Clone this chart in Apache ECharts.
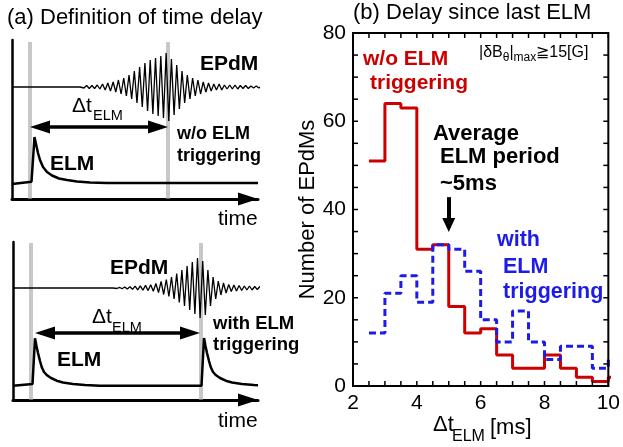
<!DOCTYPE html>
<html>
<head>
<meta charset="utf-8">
<script src="https://cdn.jsdelivr.net/npm/echarts@6.0.0/dist/echarts.min.js"></script>
<style>
  html, body { margin: 0; padding: 0; background: #fff; }
  #chart { width: 623px; height: 447px; }
</style>
</head>
<body>
<div id="chart"></div>
<script>
// ---- (b) histogram: number of EPdMs vs. delay since last ELM ----
const binLeft = [2.5, 3.0, 3.5, 4.0, 4.5, 5.0, 5.5, 6.0, 6.5, 7.0, 7.5, 8.0, 8.5, 9.0, 9.5, 10.0];
const binWidth = 0.5;
const countsWithoutTrigger = [51, 64, 63, 31, 32, 18, 12, 13, 7, 4, 4, 7, 4, 2, 1, 2];
const countsWithTrigger    = [12, 21, 25, 19, 32, 31, 26, 15, 10, 17, 10, 6, 9, 9, 4, 6];
const delayRange = [2, 10];
const countRange = [0, 80];
// tick marks on the frame (labels every 2 ms / 20 counts)
const delayTicks = [2, 2.5, 3, 3.5, 4, 4.5, 5, 5.5, 6, 6.5, 7, 7.5, 8, 8.5, 9, 9.5, 10];
const countTicks = [0, 5, 10, 15, 20, 25, 30, 35, 40, 45, 50, 55, 60, 65, 70, 75, 80];
const averageElmPeriod = 5;          // ms
const averageArrowCounts = [42.8, 36.5];

// ---- (a) schematic traces (arbitrary time / signal units) ----
// ELM signal without triggering: [time, signal]
const elmTraceUpper = [[0, 15], [19.5, 17.3], [22.5, 62], [24, 55], [26, 46], [28, 39], [31, 32], [35, 27],
  [40, 23.5], [47, 20.5], [55, 19], [65, 17.5], [78, 16.5], [95, 16], [246, 16]];
// ELM signal with triggering (second ELM at the EPdM burst)
const elmTraceLower = [[0, 14.3], [19.5, 16], [22, 61.7], [23.5, 54], [25, 47], [27, 39], [28.7, 33], [31, 28],
  [33.7, 25], [38, 22], [43.7, 19.3], [50, 17.5], [60, 16], [72, 15], [87, 14.3], [188.5, 14.3], [191, 62],
  [192.5, 54], [194, 47], [196, 39], [197.7, 33], [200, 28], [202.7, 25], [207, 22], [212.7, 19.3],
  [219, 17.5], [229, 16], [241, 15], [245, 14.8]];
// EPdM magnetic oscillation: amplitude of each cycle
const modeAmpUpper = [1, 1.5, 1.5, 2, 3, 4, 5, 7, 9, 12, 16, 20, 24, 27, 29, 31, 34, 28, 22, 16, 12, 9, 7, 5, 4, 3, 3, 2, 2, 2, 1.5, 1.5, 1, 1];
const modeAmpLower = [0.5, 0.7, 1, 1.3, 1.8, 2.2, 2.6, 3.2, 4.5, 6.5, 8.5, 11, 14.5, 18, 22, 26, 30, 27, 18, 11, 7, 5, 3.5, 3, 2.5, 2, 2, 1.5, 1.5, 1];
const modeUpper = { start: 68, cycle: 5.3, level: 112 };
const modeLower = { start: 100, cycle: 5.2, level: 112 };
const markerTimesUpper = [18, 156];   // ELM onset, EPdM peak
const markerTimesLower = [18, 188];   // ELM onset, triggered ELM
const delayArrowUpper = { from: 18, to: 156, level: 72 };
const delayArrowLower = { from: 22, to: 187, level: 67 };

const FONT = '"Liberation Sans", Arial, Helvetica, sans-serif';
const RED = '#cc0000';
const BLUE = '#1c1ce6';
const GRAY = '#c8c8c8';

// histogram plot area in pixels
const PLOT = { left: 353, top: 33, width: 262, height: 353 };
const TICK_PX = 5;

function stepData(counts) {
  const d = binLeft.map((x, i) => [x, counts[i]]);
  d.push([binLeft[binLeft.length - 1] + binWidth, counts[counts.length - 1]]);
  return d;
}

function wavePacket(m, amps) {
  const pts = [[0, m.level], [m.start, m.level]];
  amps.forEach((a, i) => {
    const t0 = m.start + i * m.cycle;
    pts.push([t0 + m.cycle / 4, m.level + a]);
    pts.push([t0 + 3 * m.cycle / 4, m.level - a]);
  });
  pts.push([m.start + amps.length * m.cycle, m.level]);
  return pts;
}

function markerBar(axis, t, top) {
  return {
    type: 'line', xAxisIndex: axis, yAxisIndex: axis, z: 1, silent: true,
    showSymbol: false, data: [[t, 0.5], [t, top]],
    lineStyle: { color: GRAY, width: 4 }
  };
}

function arrowSeries(axis, p0, p1, size, width, both) {
  return {
    type: 'line', xAxisIndex: axis, yAxisIndex: axis, z: 5, silent: true,
    showSymbol: false, data: [p0, p1], lineStyle: { opacity: 0 },
    markLine: {
      silent: true, animation: false,
      symbol: [both ? 'triangle' : 'none', 'triangle'],
      symbolSize: size,
      label: { show: false },
      emphasis: { disabled: true },
      lineStyle: { color: '#000', width: width, type: 'solid' },
      data: [[{ coord: p0 }, { coord: p1 }]]
    }
  };
}

function frameAxis(isX) {
  const ax = {
    type: 'value', gridIndex: 0,
    axisLine: { show: true, onZero: false, lineStyle: { color: '#000', width: 2 } },
    axisTick: { show: false },
    minorTick: { show: false },
    splitLine: { show: false },
    axisLabel: { show: true, color: '#000', fontSize: 21, fontFamily: FONT, margin: 7 }
  };
  if (isX) Object.assign(ax, { min: delayRange[0], max: delayRange[1], interval: 2 });
  else Object.assign(ax, { min: countRange[0], max: countRange[1], interval: 20 });
  return ax;
}

function schematicX(grid, width) {
  return {
    type: 'value', gridIndex: grid, min: 0, max: width,
    axisLine: { show: true, onZero: false, symbol: ['none', 'triangle'], symbolSize: [13, 20], symbolOffset: [0, -10],
      lineStyle: { color: '#000', width: 3 } },
    axisTick: { show: false }, axisLabel: { show: false }, splitLine: { show: false }
  };
}
function schematicY(grid, height) {
  return {
    type: 'value', gridIndex: grid, min: 0, max: height,
    axisLine: { show: true, onZero: false, lineStyle: { color: '#000', width: 2.5 } },
    axisTick: { show: false }, axisLabel: { show: false }, splitLine: { show: false }
  };
}

function txt(text, x, y, size, extra) {
  return {
    type: 'text', x: x, y: y, silent: true, z: 10,
    style: Object.assign({ text: text, fontSize: size, fontFamily: FONT, fill: '#000', align: 'left', verticalAlign: 'middle' }, extra || {})
  };
}
const bold = { fontWeight: 'bold' };

const labels = [
  // titles
  txt('(a) Definition of time delay', 7, 18, 22),
  txt('(b) Delay since last ELM', 353, 13, 22),

  // upper schematic labels
  txt('EPdM', 200, 64, 21, bold),
  txt('\u0394t', 72, 106, 21),
  txt('ELM', 93, 116, 14.5),
  txt('w/o ELM', 177, 134, 18, bold),
  txt('triggering', 177, 156, 18, bold),
  txt('ELM', 50, 164, 21, bold),
  txt('time', 218, 219, 21),

  // lower schematic labels
  txt('EPdM', 110, 268, 21, bold),
  txt('\u0394t', 92, 317, 21),
  txt('ELM', 112, 328, 14.5),
  txt('with ELM', 213, 324, 18.5, bold),
  txt('triggering', 213, 345, 18.5, bold),
  txt('ELM', 57, 360, 21, bold),
  txt('time', 218, 421, 21),

  // histogram annotations
  txt('w/o ELM', 363, 59, 21, { fontWeight: 'bold', fill: RED }),
  txt('triggering', 370, 83, 21, { fontWeight: 'bold', fill: RED }),
  {
    type: 'text', x: 479, y: 53, silent: true, z: 10,
    style: {
      text: '{m||\u03b4B}{s|\u03b8}{m||}{s|max}{m|\u226715[G]}',
      fontFamily: FONT, fill: '#000', align: 'left', verticalAlign: 'middle',
      rich: {
        m: { fontSize: 16, fontFamily: FONT, fill: '#000' },
        s: { fontSize: 12, fontFamily: FONT, fill: '#000', padding: [9, 0, 0, 0] }
      }
    }
  },
  txt('Average', 433, 134, 22, bold),
  txt('ELM period', 440, 157, 22, bold),
  txt('~5ms', 440, 184, 22, bold),
  txt('with', 497, 240, 21.5, { fontWeight: 'bold', fill: BLUE }),
  txt('ELM', 503, 267, 21.5, { fontWeight: 'bold', fill: BLUE }),
  txt('triggering', 503, 292, 21.5, { fontWeight: 'bold', fill: BLUE }),

  // x-axis name
  txt('\u0394t', 433, 425, 22),
  txt('ELM', 452, 437, 16),
  txt('[ms]', 490, 428, 22)
];

const chart = echarts.init(document.getElementById('chart'), null, { renderer: 'canvas' });
chart.setOption({
  animation: false,
  backgroundColor: '#fff',
  grid: [
    PLOT,
    { left: 12, top: 40, width: 246, height: 159 },
    { left: 13, top: 242, width: 245, height: 158 }
  ],
  xAxis: [
    frameAxis(true),
    schematicX(1, 246),
    schematicX(2, 245)
  ],
  yAxis: [
    Object.assign(frameAxis(false), {
      name: 'Number of EPdMs', nameLocation: 'middle', nameGap: 34,
      nameTextStyle: { color: '#000', fontSize: 22, fontFamily: FONT }
    }),
    schematicY(1, 159),
    schematicY(2, 158)
  ],
  series: [
    {
      type: 'line', name: 'w/o ELM triggering', xAxisIndex: 0, yAxisIndex: 0, z: 3,
      step: 'end', showSymbol: false, clip: false, silent: true,
      data: stepData(countsWithoutTrigger),
      lineStyle: { color: RED, width: 3 }
    },
    {
      type: 'line', name: 'with ELM triggering', xAxisIndex: 0, yAxisIndex: 0, z: 4,
      step: 'end', showSymbol: false, clip: false, silent: true,
      data: stepData(countsWithTrigger),
      lineStyle: { color: BLUE, width: 3, type: [7, 4] }
    },
    arrowSeries(0, [averageElmPeriod, averageArrowCounts[0]], [averageElmPeriod, averageArrowCounts[1]], [13, 14], 4, false),

    // upper schematic: EPdM without ELM triggering
    markerBar(1, markerTimesUpper[0], 157),
    markerBar(1, markerTimesUpper[1], 157),
    {
      type: 'line', xAxisIndex: 1, yAxisIndex: 1, z: 2, silent: true, showSymbol: false, clip: false,
      data: wavePacket(modeUpper, modeAmpUpper), lineStyle: { color: '#000', width: 1.3 }
    },
    {
      type: 'line', xAxisIndex: 1, yAxisIndex: 1, z: 2, silent: true, showSymbol: false, clip: false,
      data: elmTraceUpper, lineStyle: { color: '#000', width: 2.5 }
    },
    arrowSeries(1, [delayArrowUpper.from + 10, delayArrowUpper.level], [delayArrowUpper.to - 10, delayArrowUpper.level], [13, 20], 3.5, true),

    // lower schematic: EPdM with ELM triggering
    markerBar(2, markerTimesLower[0], 157),
    markerBar(2, markerTimesLower[1], 157),
    {
      type: 'line', xAxisIndex: 2, yAxisIndex: 2, z: 2, silent: true, showSymbol: false, clip: false,
      data: wavePacket(modeLower, modeAmpLower), lineStyle: { color: '#000', width: 1.3 }
    },
    {
      type: 'line', xAxisIndex: 2, yAxisIndex: 2, z: 2, silent: true, showSymbol: false, clip: false,
      data: elmTraceLower, lineStyle: { color: '#000', width: 2.5 }
    },
    arrowSeries(2, [delayArrowLower.from + 10, delayArrowLower.level], [delayArrowLower.to - 10, delayArrowLower.level], [13, 20], 3.5, true)
  ],
  graphic: labels
});

// Plot frame and inward tick marks, positioned through the histogram's axis scales.
const toPx = v => chart.convertToPixel({ xAxisIndex: 0, yAxisIndex: 0 }, v);
const frameEls = [];
const stroke = w => ({ stroke: '#000', lineWidth: w, fill: null });
const c00 = toPx([delayRange[0], countRange[0]]);
const c11 = toPx([delayRange[1], countRange[1]]);
frameEls.push({
  type: 'rect', silent: true, z: 11,
  shape: { x: c00[0], y: c11[1], width: c11[0] - c00[0], height: c00[1] - c11[1] },
  style: stroke(2)
});
delayTicks.forEach(v => {
  const b = toPx([v, countRange[0]]);
  const t = toPx([v, countRange[1]]);
  frameEls.push({ type: 'line', silent: true, z: 11, shape: { x1: b[0], y1: b[1], x2: b[0], y2: b[1] - TICK_PX }, style: stroke(1.5) });
  frameEls.push({ type: 'line', silent: true, z: 11, shape: { x1: t[0], y1: t[1], x2: t[0], y2: t[1] + TICK_PX }, style: stroke(1.5) });
});
countTicks.forEach(v => {
  const l = toPx([delayRange[0], v]);
  const r = toPx([delayRange[1], v]);
  frameEls.push({ type: 'line', silent: true, z: 11, shape: { x1: l[0], y1: l[1], x2: l[0] + TICK_PX, y2: l[1] }, style: stroke(1.5) });
  frameEls.push({ type: 'line', silent: true, z: 11, shape: { x1: r[0], y1: r[1], x2: r[0] - TICK_PX, y2: r[1] }, style: stroke(1.5) });
});
chart.setOption({ graphic: labels.concat(frameEls) });
</script>
</body>
</html>
